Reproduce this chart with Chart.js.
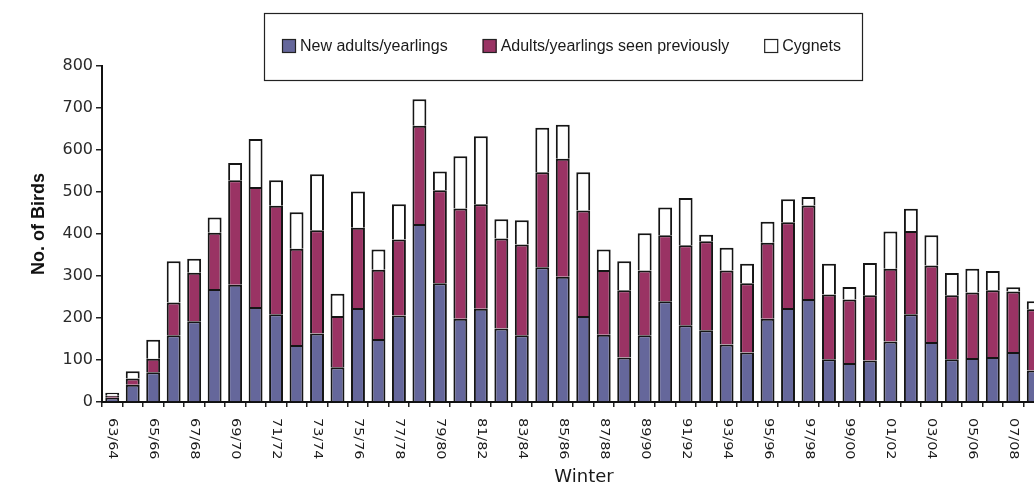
<!DOCTYPE html>
<html>
<head>
<meta charset="utf-8">
<script src="https://cdn.jsdelivr.net/npm/chart.js@4/dist/chart.umd.min.js"></script>
<style>
  html, body { margin: 0; padding: 0; background: #ffffff; overflow: hidden; }
  #wrap { width: 1045px; height: 489px; }
</style>
</head>
<body>
<div id="wrap"><canvas id="c" width="1045" height="489"></canvas></div>
<script>
const categories = ['63/64','64/65','65/66','66/67','67/68','68/69','69/70','70/71','71/72','72/73',
  '73/74','74/75','75/76','76/77','77/78','78/79','79/80','80/81','81/82','82/83',
  '83/84','84/85','85/86','86/87','87/88','88/89','89/90','90/91','91/92','92/93',
  '93/94','94/95','95/96','96/97','97/98','98/99','99/00','00/01','01/02','02/03',
  '03/04','04/05','05/06','06/07','07/08','08/09'];

const newAdults = [10,41,71,159,192,269,279,226,209,136,
  163,83,224,150,206,424,283,198,222,175,
  159,321,298,205,160,106,159,240,183,171,
  137,118,198,224,245,102,93,99,144,209,
  143,102,105,107,119,75];

const seenPreviously = [5,15,32,78,116,134,249,286,258,229,
  246,122,191,165,181,234,221,263,249,214,
  216,226,281,251,154,160,154,157,190,212,
  176,165,181,204,223,154,151,155,173,198,
  182,152,156,159,144,146];

const cygnets = [7,17,45,98,33,36,41,114,61,87,
  133,53,86,48,84,63,45,124,162,46,
  58,106,81,91,49,69,89,66,113,15,
  54,46,50,55,20,73,30,77,89,53,
  72,53,56,46,10,19];

const seriesNames = ['New adults/yearlings', 'Adults/yearlings seen previously', 'Cygnets'];
const yTicks = [0,100,200,300,400,500,600,700,800];
const xTitle = 'Winter';
const yTitle = 'No. of Birds';

const colors = ['#65679b', '#9a3364', '#ffffff'];
const edge = '#151515';

const customDraw = {
  id: 'customDraw',
  afterDraw(chart) {
    const ctx = chart.ctx;
    const xs = chart.scales.x;
    const ca = chart.chartArea;
    ctx.save();
    // x tick labels, rotated clockwise (read top to bottom)
    ctx.fillStyle = '#1a1a1a';
    ctx.font = "11.5px 'DejaVu Sans'";
    ctx.textAlign = 'left';
    ctx.textBaseline = 'middle';
    categories.forEach((c, i) => {
      if (i % 2) return;
      const px = xs.getPixelForValue(i);
      ctx.save();
      ctx.translate(px, ca.bottom + 16);
      ctx.rotate(Math.PI / 2);
      ctx.scale(1.25, 1);
      ctx.fillText(c, 0, 0);
      ctx.restore();
    });
    // x title
    ctx.fillStyle = '#1a1a1a';
    ctx.font = "18px 'DejaVu Sans'";
    ctx.textAlign = 'center';
    ctx.textBaseline = 'middle';
    ctx.fillText(xTitle, 584, 477);
    // y title
    ctx.save();
    ctx.translate(39, 224);
    ctx.rotate(-Math.PI / 2);
    ctx.font = "bold 18px 'Liberation Sans'";
    ctx.fillStyle = '#111';
    ctx.fillText(yTitle, 0, 0);
    ctx.restore();
    // legend box
    ctx.strokeStyle = '#222';
    ctx.lineWidth = 1.2;
    ctx.strokeRect(264.5, 13.5, 598, 67);
    ctx.font = "16px 'Liberation Sans'";
    ctx.textAlign = 'left';
    ctx.textBaseline = 'middle';
    let lx = 282;
    const ly = 39;
    chart.data.datasets.forEach((ds) => {
      ctx.fillStyle = ds.backgroundColor;
      ctx.fillRect(lx, ly, 14, 14);
      ctx.strokeStyle = '#222';
      ctx.lineWidth = 1.2;
      ctx.strokeRect(lx + 0.5, ly + 0.5, 13, 13);
      ctx.fillStyle = '#1a1a1a';
      ctx.fillText(ds.label, lx + 18, ly + 8);
      lx += 18 + ctx.measureText(ds.label).width + 35;
    });
    ctx.restore();
  }
};

new Chart(document.getElementById('c'), {
  type: 'bar',
  data: {
    labels: categories,
    datasets: [
      { label: seriesNames[0], data: newAdults, backgroundColor: colors[0] },
      { label: seriesNames[1], data: seenPreviously, backgroundColor: colors[1] },
      { label: seriesNames[2], data: cygnets, backgroundColor: colors[2] }
    ].map(d => Object.assign(d, {
      borderColor: edge, borderWidth: 2, borderSkipped: 'start',
      categoryPercentage: 1.0, barPercentage: 0.68
    }))
  },
  options: {
    responsive: false,
    animation: false,
    layout: { padding: { top: 66, left: 0, right: 1, bottom: 0 } },
    plugins: { legend: { display: false }, tooltip: { enabled: false }, title: { display: false } },
    scales: {
      x: {
        stacked: true,
        afterFit(scale) { scale.height = 87; },
        grid: { display: true, drawOnChartArea: false, drawTicks: true, tickLength: 5, color: '#222', lineWidth: 1.5, offset: true },
        border: { display: true, color: '#111', width: 2 },
        ticks: { display: false }
      },
      y: {
        stacked: true,
        min: 0, max: 800,
        afterFit(scale) { scale.width = 102; },
        afterBuildTicks(scale) { scale.ticks = yTicks.map(v => ({ value: v })); },
        grid: { display: true, drawOnChartArea: false, drawTicks: true, tickLength: 6, color: '#222', lineWidth: 1.5 },
        border: { display: true, color: '#111', width: 2 },
        ticks: { color: '#2a2a2a', font: { family: 'DejaVu Sans', size: 16 }, padding: 3 }
      }
    }
  },
  plugins: [customDraw]
});
</script>
</body>
</html>
